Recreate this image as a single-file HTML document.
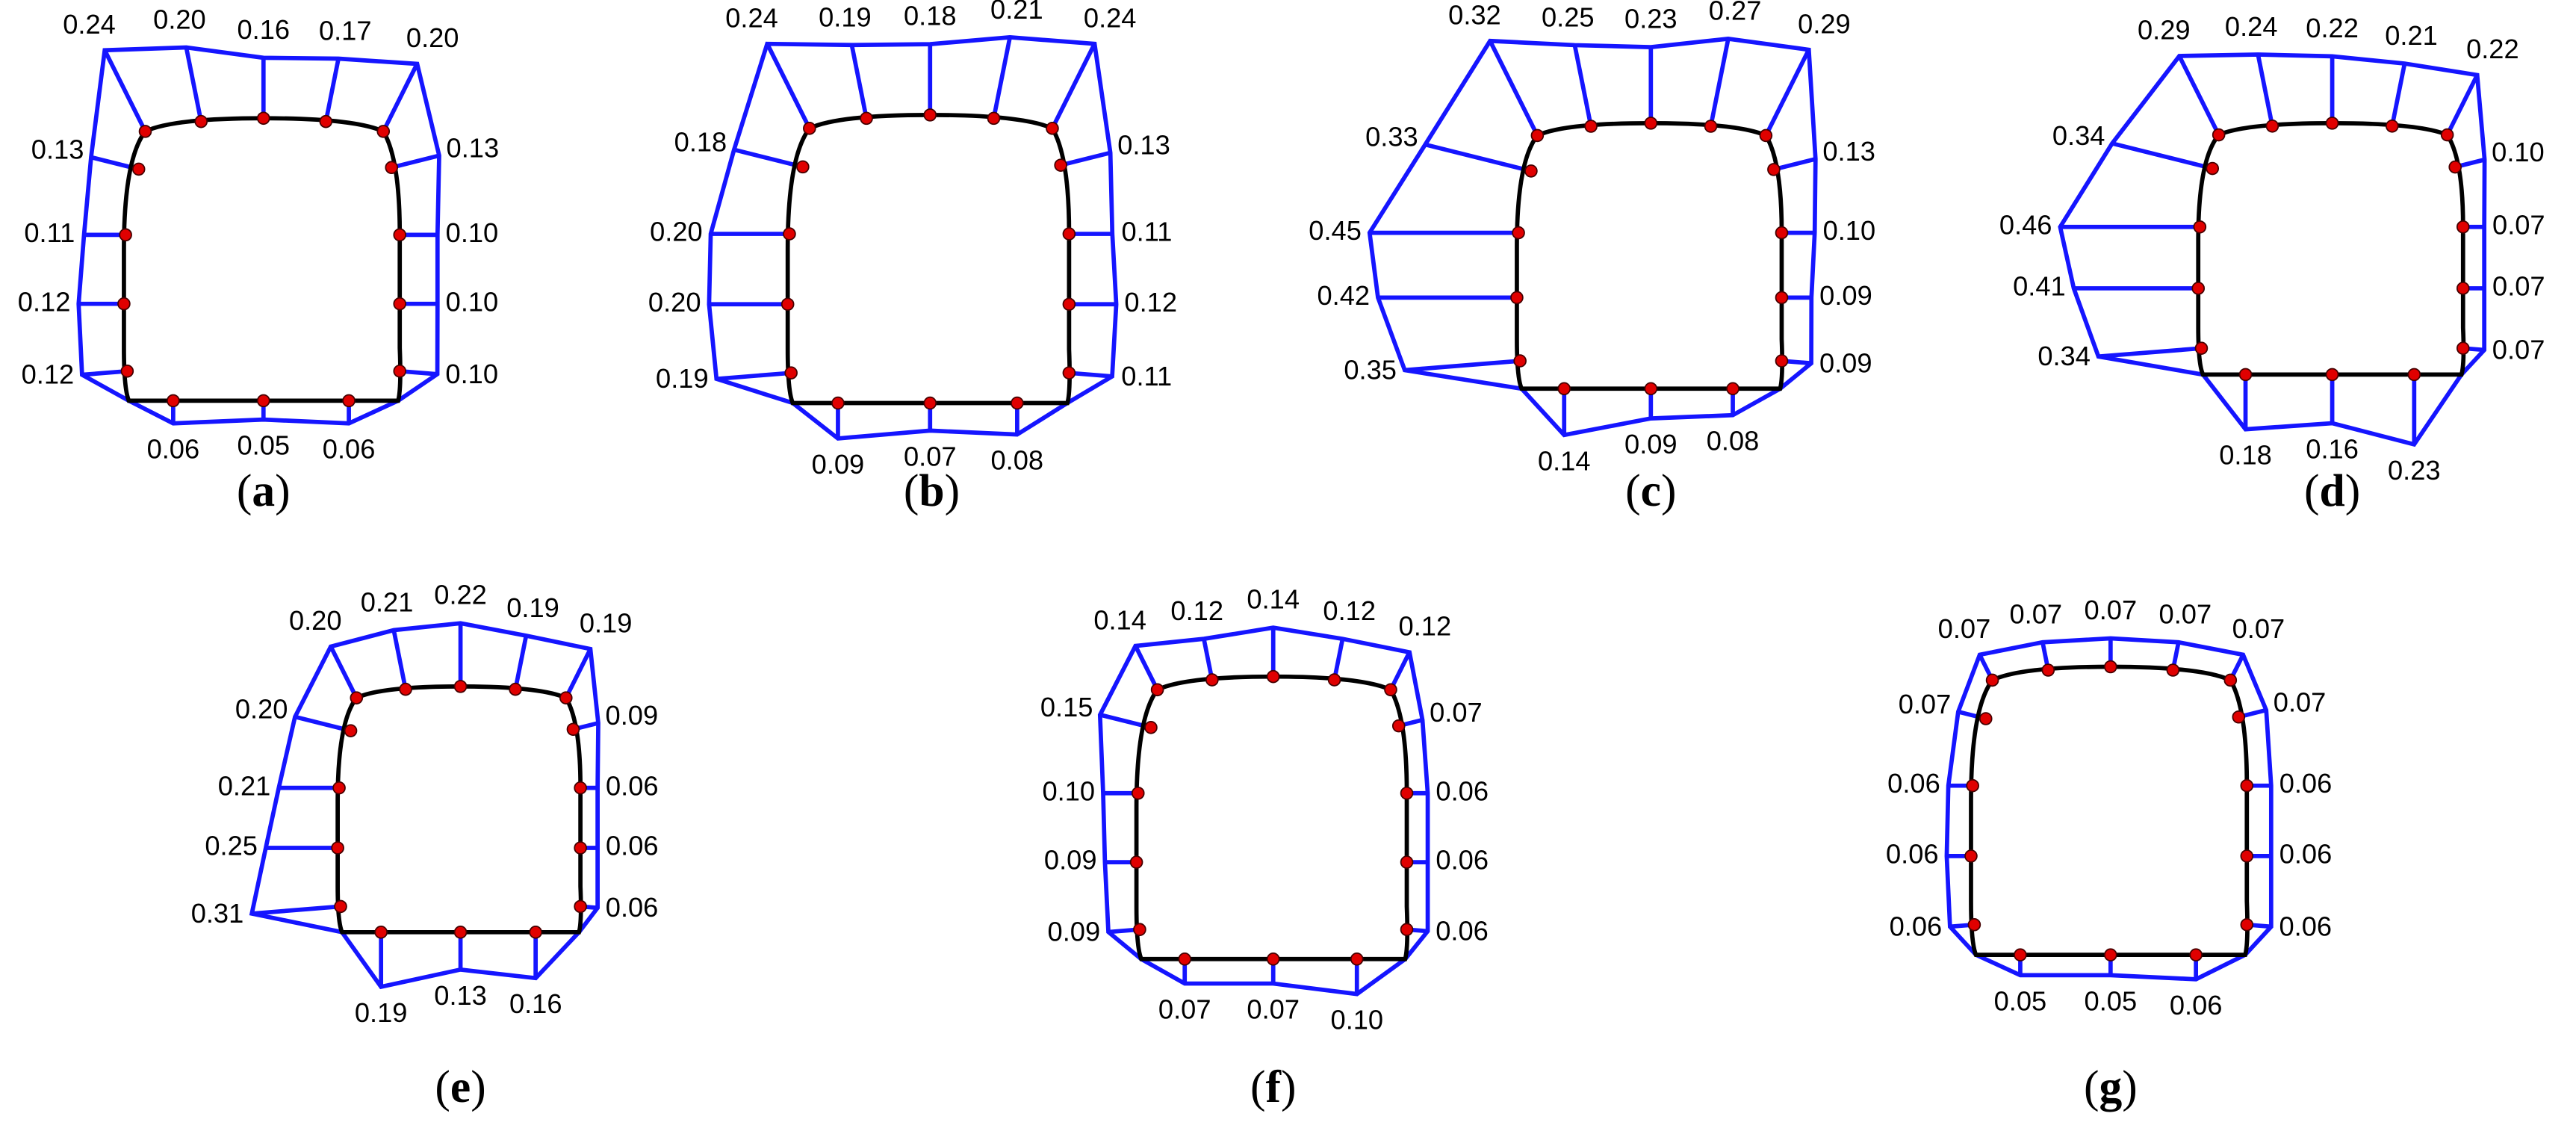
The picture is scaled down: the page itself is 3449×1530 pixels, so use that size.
<!DOCTYPE html>
<html><head><meta charset="utf-8"><style>
html,body{margin:0;padding:0;background:#fff;}
svg{display:block;}
.lb{font-family:"Liberation Sans",sans-serif;font-size:16.5px;fill:#000;}
.cap{font-family:"Liberation Serif",serif;font-size:28px;fill:#000;}
</style></head><body>
<svg id="s" width="3449" height="1530" viewBox="0 0 1568 696" xmlns="http://www.w3.org/2000/svg">
<rect width="1568" height="696" fill="#fff"/>
<g id="g"></g>
<text class="cap" x="160" y="308" text-anchor="middle">(<tspan font-weight="bold">a</tspan>)</text>
<text class="cap" x="567" y="308" text-anchor="middle">(<tspan font-weight="bold">b</tspan>)</text>
<text class="cap" x="1005" y="308" text-anchor="middle">(<tspan font-weight="bold">c</tspan>)</text>
<text class="cap" x="1420" y="308" text-anchor="middle">(<tspan font-weight="bold">d</tspan>)</text>
<text class="cap" x="280" y="671" text-anchor="middle">(<tspan font-weight="bold">e</tspan>)</text>
<text class="cap" x="775" y="671" text-anchor="middle">(<tspan font-weight="bold">f</tspan>)</text>
<text class="cap" x="1285" y="671" text-anchor="middle">(<tspan font-weight="bold">g</tspan>)</text>
</svg>
<script>
var N=[[-72,8,-.45,-.9],[-38,2,-.2,-1],[0,0,0,-1],[38,2,.2,-1],[73,8,.45,-.9],[78,30,1,-.25],[83,71,1,0],[83,113,1,0],[83,154,1,.08],[52,172,0,1],[0,172,0,1],[-55,172,0,1],[-83,154,-1,.08],[-85,113,-1,0],[-84,71,-1,0],[-76,31,-1,-.25]];
var P=[
{x:160,y:72,sx:1,sy:1,k:230,v:["0.24","0.20","0.16","0.17","0.20","0.13","0.10","0.10","0.10","0.06","0.05","0.06","0.12","0.12","0.11","0.13"]},
{x:566,y:70,sx:1.02,sy:1.02,k:235,v:["0.24","0.19","0.18","0.21","0.24","0.13","0.11","0.12","0.11","0.08","0.07","0.09","0.19","0.20","0.20","0.18"]},
{x:1005,y:75,sx:0.96,sy:0.94,k:212,v:["0.32","0.25","0.23","0.27","0.29","0.13","0.10","0.09","0.09","0.08","0.09","0.14","0.35","0.42","0.45","0.33"]},
{x:1420,y:75,sx:0.96,sy:0.89,k:200,v:["0.29","0.24","0.22","0.21","0.22","0.10","0.07","0.07","0.07","0.23","0.16","0.18","0.34","0.41","0.46","0.34"]},
{x:280,y:418,sx:0.88,sy:0.87,k:200,v:["0.20","0.21","0.22","0.19","0.19","0.09","0.06","0.06","0.06","0.16","0.13","0.19","0.31","0.25","0.21","0.20"]},
{x:775,y:412,sx:0.98,sy:1.0,k:215,v:["0.14","0.12","0.14","0.12","0.12","0.07","0.06","0.06","0.06","0.10","0.07","0.07","0.09","0.09","0.10","0.15"]},
{x:1285,y:406,sx:1.0,sy:1.02,k:245,v:["0.07","0.07","0.07","0.07","0.07","0.07","0.06","0.06","0.06","0.06","0.05","0.05","0.06","0.06","0.06","0.07"]}];
var h='';
P.forEach(function(p){
 var X=function(a){return p.x+a*p.sx},Y=function(b){return p.y+b*p.sy};var s=(p.sx+p.sy)/2;
 var nodes=[],outs=[],nrm=[];
 N.forEach(function(n,i){var l=Math.hypot(n[2],n[3]),nx=n[2]/l,ny=n[3]/l;var px=X(n[0]),py=Y(n[1]);var d=parseFloat(p.v[i])*p.k*s;
  nodes.push([px,py]);outs.push([px+nx*d,py+ny*d]);nrm.push([nx,ny]);});
 var poly=[];for(var i=0;i<16;i++){poly.push(outs[i]);if(i==8)poly.push([X(82),Y(172)]);if(i==11)poly.push([X(-82),Y(172)]);}
 h+='<polygon points="'+poly.map(function(q){return q[0].toFixed(1)+','+q[1].toFixed(1)}).join(' ')+'" fill="none" stroke="#1515ff" stroke-width="2.6" stroke-linejoin="miter"/>';
 for(var i=0;i<16;i++)h+='<line x1="'+nodes[i][0]+'" y1="'+nodes[i][1]+'" x2="'+outs[i][0]+'" y2="'+outs[i][1]+'" stroke="#1515ff" stroke-width="2.6"/>';
 h+='<path d="M'+X(-82)+','+Y(172)+' L'+X(82)+','+Y(172)+' Q'+X(84)+','+Y(165)+' '+X(83)+','+Y(140)+' L'+X(83)+','+Y(70)+' Q'+X(83)+','+Y(25)+' '+X(73)+','+Y(8)+' Q'+X(55)+','+Y(0)+' '+X(0)+','+Y(0)+' Q'+X(-55)+','+Y(0)+' '+X(-72)+','+Y(8)+' Q'+X(-85)+','+Y(25)+' '+X(-85)+','+Y(80)+' L'+X(-85)+','+Y(140)+' Q'+X(-85)+','+Y(165)+' '+X(-82)+','+Y(172)+' Z" fill="none" stroke="#000" stroke-width="2.6"/>';
 for(var i=0;i<16;i++)h+='<circle cx="'+nodes[i][0]+'" cy="'+nodes[i][1]+'" r="3.6" fill="#e00000" stroke="#400" stroke-width="0.8"/>';
 for(var i=0;i<16;i++){var nx=nrm[i][0],ny=nrm[i][1];var lx=outs[i][0]+nx*21,ly=outs[i][1]+ny*14;
  if(i<5)ly-=2; if(i>=9&&i<=11)ly+=3;
  h+='<text class="lb" x="'+lx.toFixed(1)+'" y="'+ly.toFixed(1)+'" text-anchor="middle" dominant-baseline="middle">'+p.v[i]+'</text>';}
});
document.getElementById('g').innerHTML=h;
</script>
</body></html>
